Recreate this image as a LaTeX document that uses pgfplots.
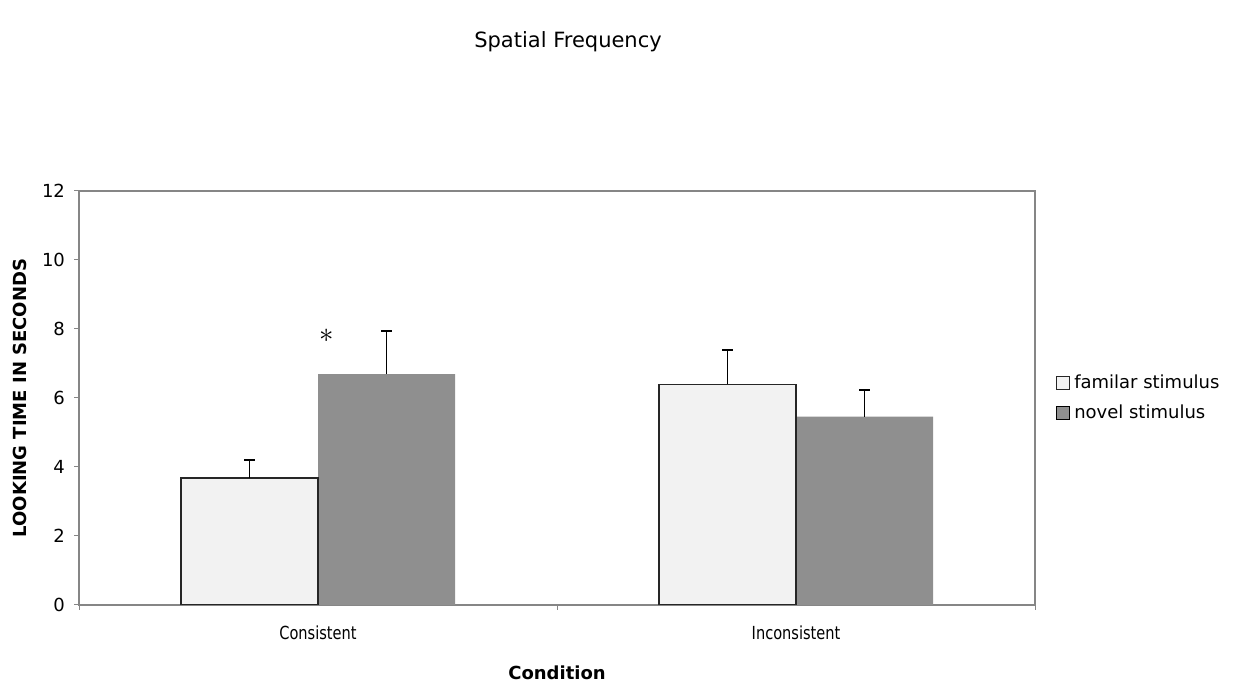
\documentclass[border=0pt]{standalone}
\usepackage{pgfplots}
\pgfplotsset{compat=1.18}
\usepackage{fontspec}
\setmainfont{DejaVu Sans}
\newfontfamily\condfont{DejaVu Sans}[FakeStretch=0.81]
\definecolor{fam}{HTML}{F2F2F2}
\definecolor{nov}{HTML}{8F8F8F}
\definecolor{axgray}{HTML}{868686}
\begin{document}
\begin{tikzpicture}
\useasboundingbox (0,0) rectangle (620pt,344pt);
\node[font=\fontsize{10.5}{12}\selectfont] at (284pt,323pt) {Spatial Frequency};
\begin{axis}[
  at={(39.5pt,41.5pt)}, anchor=south west, scale only axis,
  width=478pt, height=207pt,
  xmin=-0.5, xmax=1.5, ymin=0, ymax=12,
  ytick={0,2,...,12},
  xtick={-0.5,0.5,1.5},
  x tick label as interval,
  xticklabels={Consistent,Inconsistent},
  tick align=outside, major tick length=2.5pt,
  tick pos=left,
  tick style={axgray, line width=0.5pt},
  axis line style={axgray, line width=0.6pt},
  /pgf/number format/assume math mode=true,
  yticklabel style={font=\fontsize{9}{11}\selectfont, xshift=-1pt},
  xticklabel style={font=\condfont\fontsize{9}{11}\selectfont, yshift=-4.5pt},
  ylabel={LOOKING TIME IN SECONDS},
  xlabel={Condition},
  ylabel style={at={(axis description cs:-0.0617,0.5)}, anchor=center, font=\bfseries\fontsize{9}{11}\selectfont},
  xlabel style={at={(axis description cs:0.5,-0.1643)}, anchor=center, font=\bfseries\fontsize{9}{11}\selectfont},
  reverse legend,
  legend cell align=left,
  legend style={at={(1.022,0.5)}, anchor=west, draw=none, fill=none,
    font=\fontsize{9}{11}\selectfont, inner sep=0pt, row sep=2.5pt,
    /tikz/every even column/.style={column sep=0pt}},
  legend image code/.code={\draw[#1, line width=0.4pt] (0pt,-3.25pt) rectangle (6.5pt,3.25pt);},
]
\addplot[ybar, bar width=0.2866, bar shift=0pt, fill=nov, draw=none,
  error bars/.cd, y dir=plus, y explicit,
  error bar style={black, line width=0.7pt},
  error mark options={black, rotate=90, mark size=2.75pt, line width=0.7pt}]
  coordinates {(0.1433,6.69) +- (0,1.25) (1.1433,5.46) +- (0,0.77)};
\addlegendentry{novel stimulus}
\addplot[ybar, bar width=0.2866, bar shift=0pt, fill=fam, draw=black!85, line width=0.6pt,
  error bars/.cd, y dir=plus, y explicit,
  error bar style={black, line width=0.7pt},
  error mark options={black, rotate=90, mark size=2.75pt, line width=0.7pt}]
  coordinates {(-0.1433,3.68) +- (0,0.52) (0.8567,6.40) +- (0,0.99)};
\addlegendentry{familar stimulus}
\node at (axis cs:0.018,7.8) {\Large$\ast$};
\end{axis}
\end{tikzpicture}
\end{document}
